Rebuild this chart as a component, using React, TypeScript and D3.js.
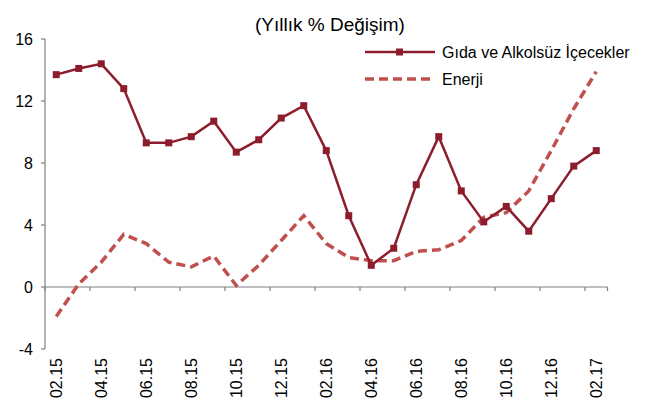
import React from "react";
import * as d3 from "d3";

// aylar
const months = [
  "02.15", "03.15", "04.15", "05.15", "06.15", "07.15", "08.15", "09.15", "10.15",
  "11.15", "12.15", "01.16", "02.16", "03.16", "04.16", "05.16", "06.16", "07.16",
  "08.16", "09.16", "10.16", "11.16", "12.16", "01.17", "02.17",
];

// Gıda ve Alkolsüz İçecekler
const gida = [
  13.7, 14.1, 14.4, 12.8, 9.3, 9.3, 9.7, 10.7, 8.7, 9.5, 10.9, 11.7, 8.8,
  4.6, 1.4, 2.5, 6.6, 9.7, 6.2, 4.2, 5.2, 3.6, 5.7, 7.8, 8.8,
];

// Enerji
const enerji = [
  -1.9, 0.2, 1.6, 3.4, 2.8, 1.6, 1.3, 2.0, 0.1, 1.4, 3.0, 4.6, 2.8,
  1.9, 1.7, 1.7, 2.3, 2.4, 3.0, 4.5, 4.8, 6.2, 8.8, 11.5, 13.9,
];

const yTicks = [-4, 0, 4, 8, 12, 16];

const W = 650;
const H = 403;
const FONT = "Liberation Sans, Arial, sans-serif";
const GIDA_COLOR = "#8C1D2D";
const ENERJI_COLOR = "#C0504D";
const AXIS_COLOR = "#808080";

export default function App() {
  const left = 45;
  const right = 607.5;
  const top = 39;
  const bottom = 349;

  const x = d3.scaleBand<string>().domain(months).range([left, right]);
  const y = d3.scaleLinear().domain([-4, 16]).range([bottom, top]);
  const cx = (m: string) => (x(m) as number) + x.bandwidth() / 2;

  const line = d3
    .line<number>()
    .x((_, i) => cx(months[i]))
    .y((d) => y(d));

  // tick every 2 months at band boundaries
  const xTicks = months.filter((_, i) => i % 2 === 0).map((m) => x(m) as number);
  xTicks.push(right);

  return (
    <svg width={W} height={H} style={{ position: "absolute", left: 0, top: 0 }} fontFamily={FONT}>
      <text x={330} y={31} textAnchor="middle" fontSize={19} fill="#000">
        (Yıllık % Değişim)
      </text>

      {/* y axis */}
      <line x1={left} x2={left} y1={top} y2={bottom} stroke={AXIS_COLOR} strokeWidth={1.2} />
      {yTicks.map((t) => (
        <g key={t}>
          <line x1={left - 4} x2={left} y1={y(t)} y2={y(t)} stroke={AXIS_COLOR} strokeWidth={1.2} />
          <text x={33} y={y(t)} dy="0.35em" textAnchor="end" fontSize={16} fill="#000">
            {t}
          </text>
        </g>
      ))}

      {/* zero line with ticks */}
      <line x1={left} x2={right} y1={y(0)} y2={y(0)} stroke={AXIS_COLOR} strokeWidth={1.2} />
      {xTicks.map((tx, i) => (
        <line key={i} x1={tx} x2={tx} y1={y(0)} y2={y(0) + 4} stroke={AXIS_COLOR} strokeWidth={1.2} />
      ))}

      {months
        .filter((_, i) => i % 2 === 0)
        .map((m) => (
          <text
            key={m}
            transform={`translate(${cx(m)},358) rotate(-90)`}
            textAnchor="end"
            dy="0.35em"
            fontSize={16}
            fill="#000"
          >
            {m}
          </text>
        ))}

      {/* series */}
      <path d={line(enerji) || ""} fill="none" stroke={ENERJI_COLOR} strokeWidth={3.5} strokeDasharray="9,5" />
      <path d={line(gida) || ""} fill="none" stroke={GIDA_COLOR} strokeWidth={2.5} />
      {gida.map((v, i) => (
        <rect key={i} x={cx(months[i]) - 3.5} y={y(v) - 3.5} width={7} height={7} fill={GIDA_COLOR} />
      ))}

      {/* legend */}
      <line x1={365} x2={435} y1={52} y2={52} stroke={GIDA_COLOR} strokeWidth={2.5} />
      <rect x={396} y={48.5} width={7} height={7} fill={GIDA_COLOR} />
      <text x={442} y={52} dy="0.35em" fontSize={16} fill="#000">
        Gıda ve Alkolsüz İçecekler
      </text>
      <line x1={365} x2={435} y1={79} y2={79} stroke={ENERJI_COLOR} strokeWidth={3.5} strokeDasharray="9,5" />
      <text x={442} y={79} dy="0.35em" fontSize={16} fill="#000">
        Enerji
      </text>
    </svg>
  );
}
